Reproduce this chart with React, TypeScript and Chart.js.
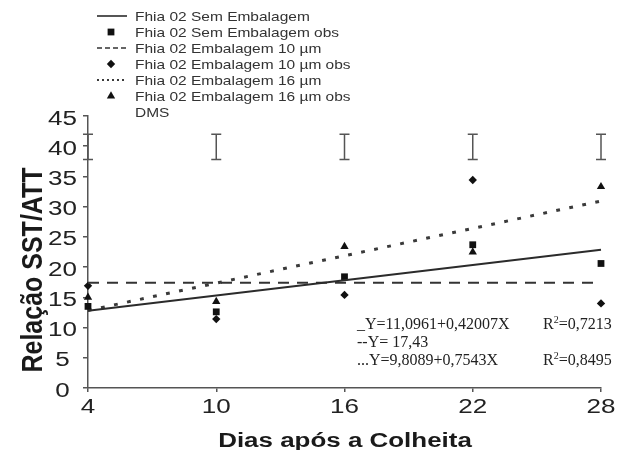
import React, { useEffect, useRef } from 'react';
import { Chart, registerables } from 'chart.js';

Chart.register(...registerables);

// ---- data ----
const days = [4, 10, 16, 22, 28];
const semObs = [13.5, 12.6, 18.4, 23.7, 20.6];
const emb10Obs = [16.9, 11.4, 15.4, 34.4, 14.0];
const emb16Obs = [15.0, 14.3, 23.4, 22.5, 33.3];

const fitDays = [4, 28];
const semFit = [12.78, 22.86];
const emb10Fit = [17.43, 17.43];
const emb16Fit = [12.83, 30.93];

const dmsLow = [37.8, 37.8, 37.8, 37.8, 37.8];
const dmsHigh = [42.0, 42.0, 42.0, 42.0, 42.0];

const seriesLabels = [
  'Fhia 02 Sem Embalagem',
  'Fhia 02 Sem Embalagem obs',
  'Fhia 02 Embalagem 10 µm',
  'Fhia 02 Embalagem 10 µm obs',
  'Fhia 02 Embalagem 16 µm',
  'Fhia 02 Embalagem 16 µm obs',
  'DMS',
];

const equationTexts = ['_Y=11,0961+0,42007X', '--Y= 17,43', '...Y=9,8089+0,7543X'];
const r2Texts = ['=0,7213', '', '=0,8495'];

const xTitle = 'Dias após a Colheita';
const yTitle = 'Relação SST/ATT';
const xMin = 4, xMax = 28, xStep = 6;
const yMin = 0, yMax = 45, yStep = 5;

const pts = (xs: number[], ys: number[]) => xs.map((x, i) => ({ x, y: ys[i] }));

function stretchText(ctx: CanvasRenderingContext2D, text: string, x: number, y: number, font: string, sx: number, align: CanvasTextAlign, color: string) {
  ctx.save();
  ctx.translate(x, y);
  ctx.scale(sx, 1);
  ctx.font = font;
  ctx.textAlign = align;
  ctx.textBaseline = 'alphabetic';
  ctx.fillStyle = color;
  ctx.fillText(text, 0, 0);
  ctx.restore();
}

function drawMarker(ctx: CanvasRenderingContext2D, style: string, x: number, y: number, r: number, color: string) {
  ctx.save();
  ctx.fillStyle = color;
  ctx.beginPath();
  if (style === 'rect') {
    const s = Math.SQRT1_2 * r;
    ctx.rect(x - s, y - s, 2 * s, 2 * s);
  } else if (style === 'rectRot') {
    ctx.moveTo(x, y - r);
    ctx.lineTo(x + r, y);
    ctx.lineTo(x, y + r);
    ctx.lineTo(x - r, y);
    ctx.closePath();
  } else if (style === 'triangle') {
    for (let k = 0; k < 3; k++) {
      const a = (k * 2 * Math.PI) / 3;
      const px = x + Math.sin(a) * r;
      const py = y - Math.cos(a) * r;
      if (k === 0) ctx.moveTo(px, py); else ctx.lineTo(px, py);
    }
    ctx.closePath();
  }
  ctx.fill();
  ctx.restore();
}

const legendDash: Record<number, number[]> = { 0: [], 2: [5, 3], 4: [2, 3] };
const tickFont = '20.5px "Liberation Sans", Arial, sans-serif';

const decorPlugin = {
  id: 'decor',
  afterDatasetsDraw(chart: any) {
    const ctx: CanvasRenderingContext2D = chart.ctx;
    const xs = chart.scales.x;
    const ys = chart.scales.y;
    // DMS error bars
    ctx.save();
    ctx.strokeStyle = '#555';
    ctx.lineWidth = 1.5;
    days.forEach((d, i) => {
      const px = xs.getPixelForValue(d);
      const y1 = ys.getPixelForValue(dmsLow[i]);
      const y2 = ys.getPixelForValue(dmsHigh[i]);
      ctx.beginPath();
      ctx.moveTo(px, y1); ctx.lineTo(px, y2);
      ctx.moveTo(px - 5, y1); ctx.lineTo(px + 5, y1);
      ctx.moveTo(px - 5, y2); ctx.lineTo(px + 5, y2);
      ctx.stroke();
    });
    ctx.restore();
  },
  afterDraw(chart: any) {
    const ctx: CanvasRenderingContext2D = chart.ctx;
    const ds = chart.data.datasets;
    const xs = chart.scales.x;
    const ys = chart.scales.y;
    // tick labels (from the scales' own ticks)
    xs.ticks.forEach((t: any) => {
      stretchText(ctx, String(t.label), xs.getPixelForValue(t.value), xs.top + 25, tickFont, 1.27, 'center', '#222');
    });
    ys.ticks.forEach((t: any) => {
      stretchText(ctx, String(t.label), 62.5, ys.getPixelForValue(t.value) + 8.6, tickFont, 1.27, 'center', '#222');
    });
    // legend
    ds.forEach((d: any, i: number) => {
      const base = 20.5 + 16 * i;
      const cy = base - 4.5;
      if (d.showLine) {
        ctx.save();
        ctx.strokeStyle = d.borderColor;
        ctx.lineWidth = i === 4 ? 2 : 1.6;
        ctx.setLineDash(legendDash[i] || []);
        ctx.beginPath();
        ctx.moveTo(97, cy); ctx.lineTo(127, cy);
        ctx.stroke();
        ctx.restore();
      } else if (d.pointRadius > 0) {
        drawMarker(ctx, d.pointStyle, 111, cy, d.pointRadius, d.backgroundColor);
      }
      stretchText(ctx, d.label, 135, base, '12.6px "Liberation Sans", Arial, sans-serif', 1.23, 'left', '#333');
    });
    // equations
    const ex = 357;
    equationTexts.forEach((t, i) => {
      const b = 329 + 18 * i;
      stretchText(ctx, t, ex, b, '16px "Liberation Serif", "Times New Roman", serif', 1, 'left', '#222');
      if (r2Texts[i]) {
        ctx.save();
        ctx.fillStyle = '#222';
        ctx.textBaseline = 'alphabetic';
        ctx.textAlign = 'left';
        ctx.font = '16px "Liberation Serif", serif';
        ctx.fillText('R', 543, b);
        const rw = ctx.measureText('R').width;
        ctx.font = '10px "Liberation Serif", serif';
        ctx.fillText('2', 543 + rw, b - 6);
        const tw = ctx.measureText('2').width;
        ctx.font = '16px "Liberation Serif", serif';
        ctx.fillText(r2Texts[i], 543 + rw + tw, b);
        ctx.restore();
      }
    });
    // x title
    stretchText(ctx, xTitle, 345, 447, 'bold 19.5px "Liberation Sans", Arial, sans-serif', 1.33, 'center', '#1a1a1a');
    // y title
    ctx.save();
    ctx.translate(42, 270);
    ctx.rotate(-Math.PI / 2);
    ctx.scale(1, 1.15);
    ctx.font = 'bold 25px "Liberation Sans", Arial, sans-serif';
    ctx.textAlign = 'center';
    ctx.textBaseline = 'alphabetic';
    ctx.fillStyle = '#1a1a1a';
    ctx.fillText(yTitle, 0, 0);
    ctx.restore();
  },
};

export default function App() {
  const ref = useRef<HTMLCanvasElement>(null);
  useEffect(() => {
    if (!ref.current) return;
    const lineBase = { showLine: true, pointRadius: 0, tension: 0, fill: false, clip: false as any };
    const chart = new Chart(ref.current, {
      type: 'scatter',
      data: {
        datasets: [
          { ...lineBase, label: seriesLabels[0], data: pts(fitDays, semFit), borderColor: '#2b2b2b', borderWidth: 2 },
          { label: seriesLabels[1], data: pts(days, semObs), pointStyle: 'rect', pointRadius: 4.8, backgroundColor: '#111', borderWidth: 0, clip: false as any },
          { ...lineBase, label: seriesLabels[2], data: pts(fitDays, emb10Fit), borderColor: '#333', borderWidth: 2, borderDash: [11, 8] },
          { label: seriesLabels[3], data: pts(days, emb10Obs), pointStyle: 'rectRot', pointRadius: 4.2, backgroundColor: '#111', borderWidth: 0, clip: false as any },
          { ...lineBase, label: seriesLabels[4], data: pts(fitDays, emb16Fit), borderColor: '#3a3a3a', borderWidth: 3, borderDash: [3.8, 9.5] },
          { label: seriesLabels[5], data: pts(days, emb16Obs), pointStyle: 'triangle', pointRadius: 4.8, backgroundColor: '#111', borderWidth: 0, clip: false as any },
          { label: seriesLabels[6], data: pts(days, days.map((_, i) => (dmsLow[i] + dmsHigh[i]) / 2)), pointRadius: 0, showLine: false },
        ] as any,
      },
      options: {
        animation: false,
        responsive: false,
        layout: { padding: { left: 0, top: 116, right: 18, bottom: 0 } },
        plugins: { legend: { display: false }, tooltip: { enabled: false } },
        scales: {
          x: {
            type: 'linear',
            min: xMin,
            max: xMax,
            ticks: { stepSize: xStep, display: false },
            grid: { display: true, drawOnChartArea: false, drawTicks: true, tickLength: 4, color: '#555', lineWidth: 1.5 },
            border: { display: true, color: '#555', width: 1.5 },
            afterFit: (s: any) => { s.height = 62; },
          },
          y: {
            type: 'linear',
            min: yMin,
            max: yMax,
            ticks: { stepSize: yStep, display: false },
            grid: { display: true, drawOnChartArea: false, drawTicks: true, tickLength: 5, color: '#555', lineWidth: 1.5 },
            border: { display: true, color: '#555', width: 1.5 },
            afterFit: (s: any) => { s.width = 88; },
          },
        },
      } as any,
      plugins: [decorPlugin],
    });
    return () => chart.destroy();
  }, []);
  return (
    <div style={{ position: 'fixed', left: 0, top: 0, width: 619, height: 450, background: '#fff' }}>
      <canvas ref={ref} width={619} height={450} style={{ display: 'block', width: 619, height: 450 }} />
    </div>
  );
}
